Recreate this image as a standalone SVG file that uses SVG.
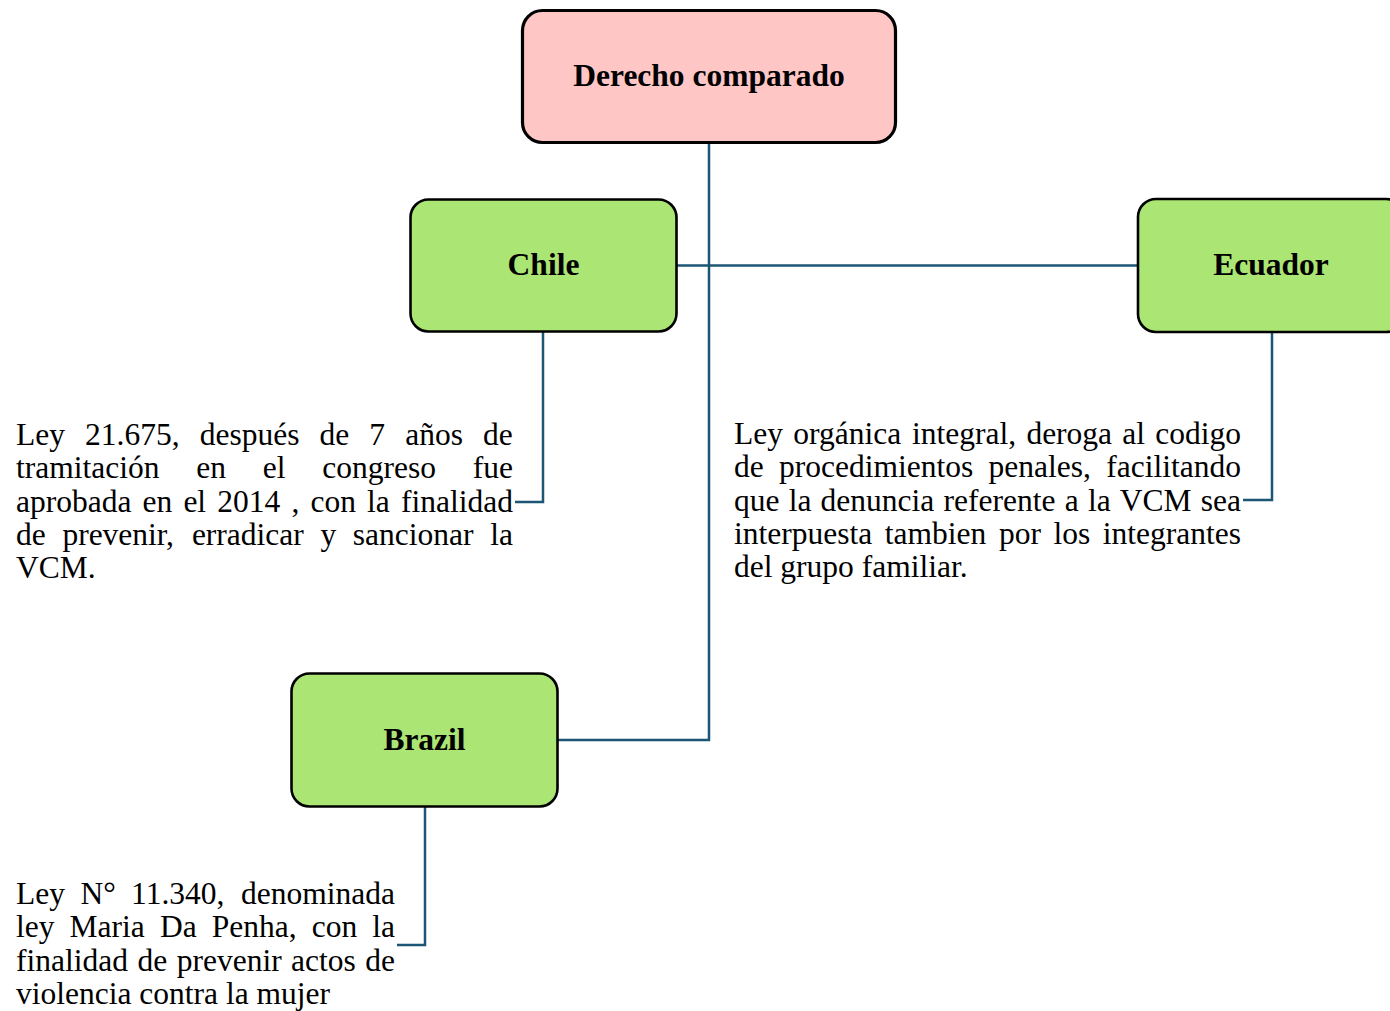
<svg xmlns="http://www.w3.org/2000/svg" width="1390" height="1011" viewBox="0 0 1390 1011">
<style>
.box{stroke:#000;stroke-width:2.6}
.root{fill:#FFC6C6;stroke-width:3.2}
.country{fill:#ABE573}
.lbl{font-family:"Liberation Serif","Times New Roman",serif;font-weight:bold;font-size:31.5px;fill:#000;text-anchor:middle}
.body{font-family:"Liberation Serif","Times New Roman",serif;font-size:31.5px;fill:#000}
.conn{fill:none;stroke:#1B5675;stroke-width:2.5}
</style>
<rect width="1390" height="1011" fill="#fff"/>
<g id="connectors">
<path class="conn" d="M709,143 V740 H557"/>
<path class="conn" d="M677,265.5 H1138"/>
<path class="conn" d="M543,332 V502 H515"/>
<path class="conn" d="M1272,332 V500 H1243"/>
<path class="conn" d="M425,807 V945 H397"/>
</g>
<g id="node-derecho">
<rect class="box root" x="522.5" y="10.5" width="373" height="132" rx="20"/>
<text class="lbl" x="709" y="86">Derecho comparado</text>
</g>
<g id="node-chile">
<rect class="box country" x="410.5" y="199.5" width="266" height="132" rx="18"/>
<text class="lbl" x="543.5" y="275">Chile</text>
</g>
<g id="node-ecuador">
<rect class="box country" x="1138" y="199" width="266" height="133" rx="18"/>
<text class="lbl" x="1271" y="275">Ecuador</text>
</g>
<g id="node-brazil">
<rect class="box country" x="291.5" y="673.5" width="266" height="133" rx="18"/>
<text class="lbl" x="424.5" y="750">Brazil</text>
</g>
<g id="text-chile" class="body">
<text y="445"><tspan x="16">Ley</tspan><tspan x="85.1">21.675,</tspan><tspan x="199.7">después</tspan><tspan x="319.5">de</tspan><tspan x="369.3">7</tspan><tspan x="405.2">años</tspan><tspan x="483">de</tspan></text>
<text y="478.3"><tspan x="16">tramitación</tspan><tspan x="196.3">en</tspan><tspan x="262.8">el</tspan><tspan x="322.3">congreso</tspan><tspan x="472.8">fue</tspan></text>
<text y="511.6"><tspan x="16">aprobada</tspan><tspan x="142.6">en</tspan><tspan x="183.4">el</tspan><tspan x="217.3">2014</tspan><tspan x="291.4">,</tspan><tspan x="310.5">con</tspan><tspan x="367.1">la</tspan><tspan x="401">finalidad</tspan></text>
<text y="545"><tspan x="16">de</tspan><tspan x="62.4">prevenir,</tspan><tspan x="191.9">erradicar</tspan><tspan x="320.4">y</tspan><tspan x="352.8">sancionar</tspan><tspan x="490.2">la</tspan></text>
<text x="16" y="578.3">VCM.</text>
</g>
<g id="text-ecuador" class="body">
<text y="444"><tspan x="734">Ley</tspan><tspan x="793.3">orgánica</tspan><tspan x="912">integral,</tspan><tspan x="1026.4">deroga</tspan><tspan x="1122.3">al</tspan><tspan x="1155.3">codigo</tspan></text>
<text y="477.3"><tspan x="734">de</tspan><tspan x="779.1">procedimientos</tspan><tspan x="988.6">penales,</tspan><tspan x="1106.3">facilitando</tspan></text>
<text y="510.6"><tspan x="734">que</tspan><tspan x="788.7">la</tspan><tspan x="820.6">denuncia</tspan><tspan x="943.5">referente</tspan><tspan x="1064.7">a</tspan><tspan x="1087.9">la</tspan><tspan x="1119.8">VCM</tspan><tspan x="1200.8">sea</tspan></text>
<text y="544"><tspan x="734">interpuesta</tspan><tspan x="884.8">tambien</tspan><tspan x="998.9">por</tspan><tspan x="1053.4">los</tspan><tspan x="1102.8">integrantes</tspan></text>
<text x="734" y="577.3">del grupo familiar.</text>
</g>
<g id="text-brazil" class="body">
<text y="904"><tspan x="16">Ley</tspan><tspan x="80.4">N°</tspan><tspan x="131.1">11.340,</tspan><tspan x="241">denominada</tspan></text>
<text y="937.3"><tspan x="16">ley</tspan><tspan x="69.6">Maria</tspan><tspan x="159.9">Da</tspan><tspan x="211.8">Penha,</tspan><tspan x="311.7">con</tspan><tspan x="372.3">la</tspan></text>
<text y="970.6"><tspan x="16">finalidad</tspan><tspan x="137.5">de</tspan><tspan x="176.7">prevenir</tspan><tspan x="291.1">actos</tspan><tspan x="365.3">de</tspan></text>
<text x="16" y="1004">violencia contra la mujer</text>
</g>
</svg>
